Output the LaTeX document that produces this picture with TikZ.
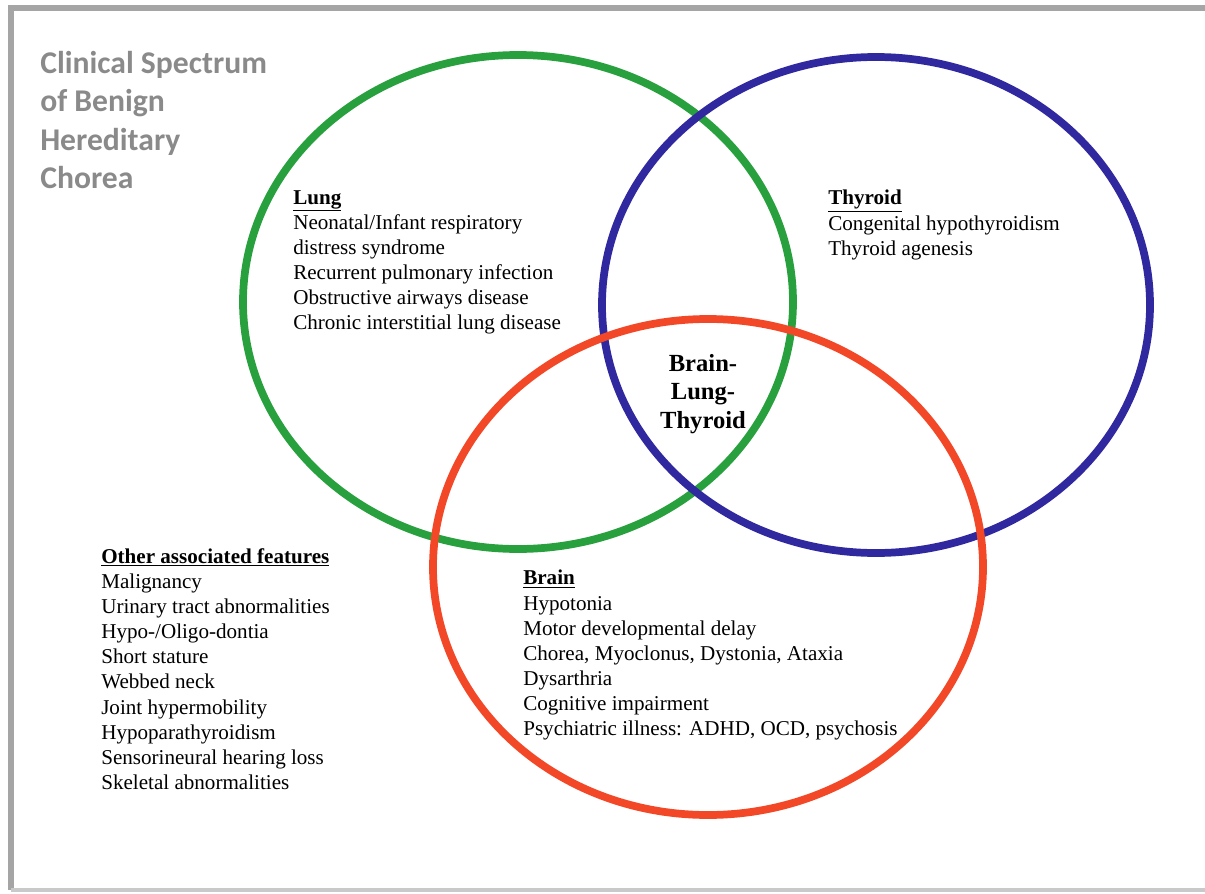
\documentclass[tikz,border=0pt]{standalone}
\usepackage{fontspec}
\setmainfont{Liberation Serif}
\newfontfamily\titlefont{Carlito}
\usetikzlibrary{positioning}

\definecolor{lunggreen}{RGB}{40,160,62}
\definecolor{thyroidblue}{RGB}{48,40,158}
\definecolor{brainred}{RGB}{242,72,40}
\definecolor{framegray}{RGB}{165,165,165}
\definecolor{titlegray}{RGB}{138,138,138}

\tikzset{
  organ/.style={line width=5.5pt},
  featlist/.style={anchor=north west, align=left, inner sep=0pt,
    font=\fontsize{15}{17.9}\selectfont},
  heading/.style={font=\fontsize{17.5}{20.3}\selectfont\bfseries, align=center, inner sep=0pt}
}

\newcommand{\organhead}[1]{\underline{\textbf{#1}}}

\begin{document}
\begin{tikzpicture}[x=0.025cm,y=-0.025cm]
\useasboundingbox (0,0) rectangle (1205,894);

% frame
\draw[framegray, line width=4.5pt] (1230,8) -- (11,8) -- (11,890);
\draw[framegray!60, line width=2.5pt] (11,890) -- (1230,890);

% title
\node[anchor=north west, align=left, inner sep=0pt, text=titlegray,
  font=\fontsize{22.5}{27.3}\selectfont\titlefont\bfseries] (title) at (40,51)
  {Clinical Spectrum\\of Benign\\Hereditary\\Chorea};

% circles
\draw[organ, lunggreen] (518,302) ellipse (275 and 247);
\draw[organ, thyroidblue] (876,305) ellipse (274 and 248);
\draw[organ, brainred] (708,567) ellipse (275 and 248);

% Labels
\node[featlist] (lung) at (293,190) {\organhead{Lung}\\
  Neonatal/Infant respiratory\\
  distress syndrome\\
  Recurrent pulmonary infection\\
  Obstructive airways disease\\
  Chronic interstitial lung disease};

\node[featlist] (thyroid) at (828,190) {\organhead{Thyroid}\\
  Congenital hypothyroidism\\
  Thyroid agenesis};

\node[featlist] (brain) at (523,570) {\organhead{Brain}\\
  Hypotonia\\
  Motor developmental delay\\
  Chorea, Myoclonus, Dystonia, Ataxia\\
  Dysarthria\\
  Cognitive impairment\\
  Psychiatric illness: ADHD, OCD, psychosis};

\node[featlist] (other) at (101,548) {\organhead{Other associated features}\\
  Malignancy\\
  Urinary tract abnormalities\\
  Hypo-/Oligo-dontia\\
  Short stature\\
  Webbed neck\\
  Joint hypermobility\\
  Hypoparathyroidism\\
  Sensorineural hearing loss\\
  Skeletal abnormalities};

% overlap of all three
\node[heading] (centre) at (703,394) {Brain-\\Lung-\\Thyroid};

\end{tikzpicture}
\end{document}
